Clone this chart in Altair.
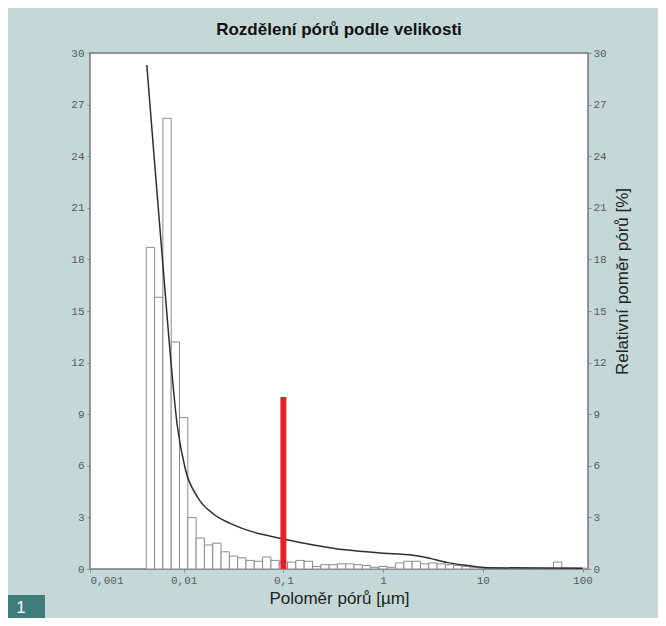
import altair as alt
import pandas as pd

# Histogram bins (centre radius in µm) and relative share in %
bin_centers = [0.004642, 0.005623, 0.006813, 0.008254, 0.01, 0.012115, 0.014678, 0.017783,
               0.021544, 0.026102, 0.031623, 0.038312, 0.046416, 0.056234, 0.068129, 0.08254,
               0.1, 0.12115, 0.14678, 0.17783, 0.21544, 0.26102, 0.31623, 0.38312, 0.46416,
               0.56234, 0.68129, 0.8254, 1.0, 1.2115, 1.4678, 1.7783, 2.1544, 2.6102, 3.1623,
               3.8312, 4.6416, 5.6234, 6.8129, 8.254, 10.0, 56.234, 68.129, 82.54, 100.0]
bin_values = [18.7, 15.8, 26.2, 13.2, 8.8, 3.0, 1.8, 1.4, 1.5, 1.0, 0.75, 0.65, 0.5, 0.45,
              0.7, 0.5, 0.4, 0.4, 0.5, 0.45, 0.15, 0.25, 0.25, 0.3, 0.3, 0.25, 0.2, 0.1, 0.15,
              0.1, 0.35, 0.45, 0.45, 0.3, 0.35, 0.3, 0.25, 0.2, 0.15, 0.1, 0.05, 0.4, 0.05,
              0.05, 0.05]

# Curve
curve_x = [0.00427, 0.00513, 0.00617, 0.00714, 0.0086, 0.0104, 0.0137, 0.0199, 0.0293,
           0.0466, 0.1, 0.2, 0.44, 0.94, 2.0, 2.55, 4.45, 7.06, 11.2, 100.0]
curve_y = [29.3, 23.5, 17.8, 13.3, 8.4, 5.8, 4.2, 3.2, 2.65, 2.2, 1.75, 1.4, 1.1, 0.93,
           0.8, 0.7, 0.37, 0.2, 0.07, 0.05]

# Red marker
marker_x = [0.1]
marker_y = [10]

x_ticks = [0.00115, 0.01, 0.1, 1, 10, 100]
y_ticks = [0, 3, 6, 9, 12, 15, 18, 21, 24, 27, 30]

BIN_HALF_DECADES = 1 / 24
bars_df = pd.DataFrame({"c": bin_centers, "v": bin_values})
bars_df["lo"] = bars_df["c"] * 10 ** (-BIN_HALF_DECADES)
bars_df["hi"] = bars_df["c"] * 10 ** (BIN_HALF_DECADES)
curve_df = pd.DataFrame({"r": curve_x, "p": curve_y})
marker_df = pd.DataFrame({"r": marker_x, "top": marker_y})
one_df = pd.DataFrame({"k": [0]})

xscale = alt.Scale(type="log", domain=[0.00115, 113.5], nice=False)
xaxis = alt.Axis(
    values=x_ticks,
    labelExpr="datum.value < 0.002 ? '0,001' : datum.value < 0.05 ? '0,01' : datum.value < 0.5 ? '0,1' : format(datum.value, 'd')",
    labelFlush=True,
    tickSize=3,
    labelPadding=2,
    title="Poloměr pórů [µm]",
    titlePadding=5,
)
yscale = alt.Scale(domain=[0, 30], nice=False, zero=True)

bars = alt.Chart(bars_df).mark_rect(fill="white", stroke="#8a8a8a", strokeWidth=1).encode(
    x=alt.X("lo:Q", scale=xscale, axis=xaxis),
    x2="hi:Q",
    y=alt.Y("v:Q", scale=yscale,
            axis=alt.Axis(orient="left", values=y_ticks, title=None, tickSize=3, labelPadding=3)),
    y2=alt.datum(0),
)

curve = alt.Chart(curve_df).mark_line(color="#2e2e2e", strokeWidth=1.5, interpolate="monotone").encode(
    x=alt.X("r:Q", scale=xscale, axis=xaxis),
    y=alt.Y("p:Q", scale=yscale,
            axis=alt.Axis(orient="right", values=y_ticks, title="Relativní poměr pórů [%]",
                          tickSize=3, labelPadding=2, titleAngle=270,
                          titleX=34, titleY=228, titleBaseline="middle")),
)

marker = alt.Chart(marker_df).mark_rule(color="#e3202b", strokeWidth=6, strokeCap="butt").encode(
    x=alt.X("r:Q", scale=xscale, axis=xaxis),
    y=alt.Y("top:Q", scale=yscale, axis=None),
    y2=alt.datum(0),
)

box = alt.Chart(one_df).mark_rect(color="#3f7c7b").encode(
    x=alt.value(-82), x2=alt.value(-45), y=alt.value(542), y2=alt.value(566)
)
box_text = alt.Chart(one_df).mark_text(
    color="white", fontSize=17, font="Liberation Sans", align="center", baseline="middle"
).encode(x=alt.value(-69), y=alt.value(555), text=alt.value("1"))

chart = (
    alt.layer(bars, curve, marker, box, box_text)
    .resolve_scale(y="independent")
    .properties(
        width=498,
        height=516,
        autosize=alt.AutoSizeParams(type="none"),
        padding={"left": 82, "top": 45, "right": 70, "bottom": 49},
        background="#c4d8d7",
        title=alt.TitleParams(
            "Rozdělení pórů podle velikosti",
            fontSize=17, fontWeight="bold", font="Liberation Sans", color="#111111",
            anchor="middle", offset=8,
        ),
    )
    .configure_view(stroke="#777777", strokeWidth=1.5, fill="white")
    .configure_axis(
        labelFont="Liberation Mono", labelFontSize=11, labelColor="#5a5a5a",
        tickColor="#888888", domain=False, grid=False,
        titleFont="Liberation Sans", titleFontSize=17, titleFontWeight="normal",
        titleColor="#222222",
    )
)

chart.save("out.html", embed_options={"renderer": "svg", "actions": False})
